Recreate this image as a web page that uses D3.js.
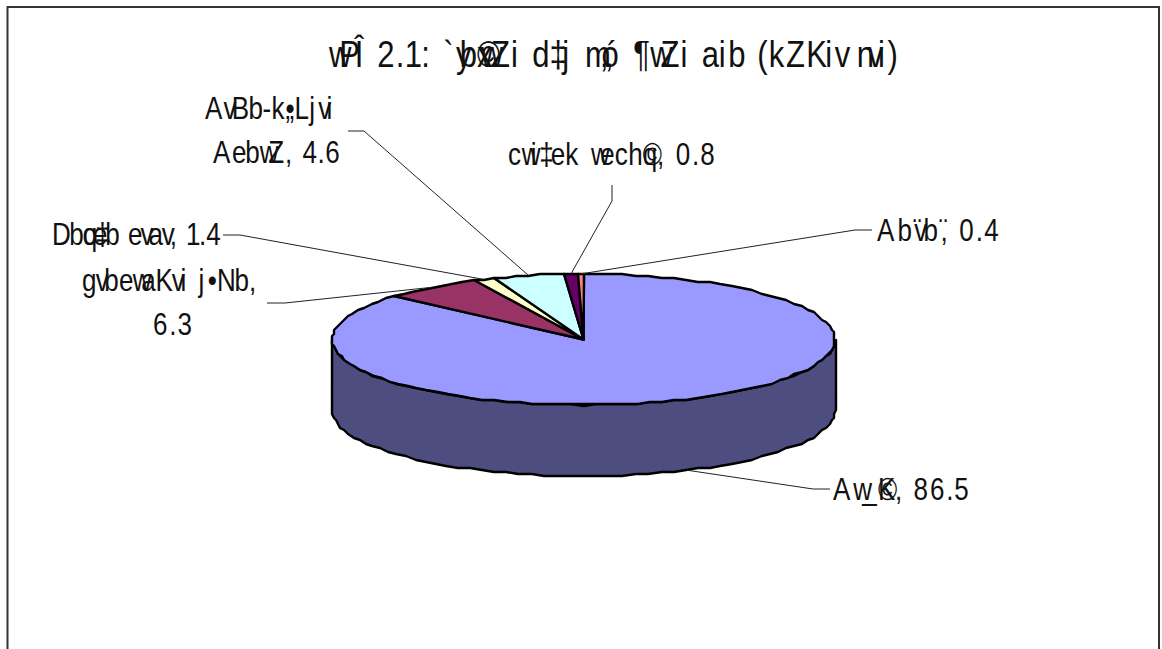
<!DOCTYPE html>
<html>
<head>
<meta charset="utf-8">
<script src="https://cdn.jsdelivr.net/npm/d3@7"></script>
<style>
  html, body { margin: 0; padding: 0; background: #fff; overflow: hidden; }
  text { font-family: "Liberation Sans", sans-serif; fill: #111; }
</style>
</head>
<body>
<div id="chart"></div>
<script>
const titleText = "wPÎ 2.1: `yb©xwZi d‡j m„ó ¶wZi aib (kZKiv nvi)";
const categories = ["Aw_©K", "gvbewaKvi j•Nb", "Dbœq‡b evav", "AvBb-k„•Ljvi AebwZ", "cwi‡ek wech©q", "Ab¨vb¨"];
const values = [86.5, 6.3, 1.4, 4.6, 0.8, 0.4];
const sliceColors = ["#9999ff", "#993366", "#ffffcc", "#ccffff", "#660066", "#ff8080"];
const wallColors = ["#4d4d80", "#4d1a33", "#808066", "#668080", "#330033", "#804040"];

// label layout: each line is [left, right, baseline], then the leader knee and its end near the text
const labelLayout = [
  { lines: [[833, 969, 500]], knee: [813, 489], end: [830, 489] },
  { lines: [[82, 263, 291], [153, 192, 335]], knee: [285, 303], end: [267, 303] },
  { lines: [[52, 219, 245]], knee: [240, 235], end: [223, 235] },
  { lines: [[205, 340, 119], [213, 339, 163]], knee: [364, 131], end: [348, 131] },
  { lines: [[508, 715, 165]], knee: [612, 201], end: [612, 185] },
  { lines: [[877, 999, 241]], knee: [855, 230], end: [872, 230] }
];

// advance widths of the legacy-encoded glyphs, in em
const advance = {
  w: .28, P: .42, "Î": .3, " ": .32, "2": .5, ".": .25, "1": .45, ":": .28, "`": .35, y: .1, b: .47, "©": 0, x: .1,
  Z: .55, i: .26, d: .47, "‡": .35, j: .3, m: .45, "„": 0, "ó": .55, "¶": .46, a: .46, "(": .32, k: .47, K: .52, v: .28,
  n: .3, ")": .3, A: .62, B: .56, "-": .3, L: .5, "•": .3, e: .44, ",": .25, D: .6, "œ": 0, q: .44, g: .44, N: .56,
  c: .42, _: .48, "¨": .04, "0": .5, "3": .5, "4": .5, "5": .5, "6": .5, "8": .5, h: .44
};

const width = 1162, height = 649;
const labelSize = 31, titleSize = 37;
const glyphScale = 0.84;
const depth = 71;

const svg = d3.select("#chart").append("svg").attr("width", width).attr("height", height);

// chart area border, the bottom edge falls outside the picture
svg.append("path").attr("d", "M7.5,700V7H1159V700")
  .attr("fill", "none").attr("stroke", "#333").attr("stroke-width", 2);

const sx = d3.scaleLinear().domain([-1, 1]).range([332, 835]);
const sy = d3.scaleLinear().domain([-1, 1]).range([274, 405]);
const project = (a, dy = 0) => [sx(Math.sin(a)), sy(-Math.cos(a)) + dy];
const line = d3.line();

// the original outline is a rough polygon snapped to a pixel grid
const sampleArc = (a0, a1, dy = 0) => {
  const n = Math.max(1, Math.ceil((a1 - a0) / (Math.PI / 60)));
  return d3.range(n + 1).map((i) => {
    const p = project(a0 + ((a1 - a0) * i) / n, dy);
    return [Math.round(p[0] / 2) * 2, Math.round(p[1] / 2) * 2];
  });
};

const pieData = d3.pie().value((d) => d).sort(null)(values);

// outer wall, only what faces the viewer
svg.append("g").selectAll("path")
  .data(pieData.filter((d) => d.startAngle < 1.5 * Math.PI && d.endAngle > 0.5 * Math.PI))
  .join("path")
  .attr("d", (d) => {
    const a0 = Math.max(d.startAngle, 0.5 * Math.PI);
    const a1 = Math.min(d.endAngle, 1.5 * Math.PI);
    return line([...sampleArc(a0, a1), ...sampleArc(a0, a1, depth).reverse()]) + "Z";
  })
  .attr("fill", (d) => wallColors[d.index])
  .attr("stroke", "#000").attr("stroke-width", 2.4).attr("stroke-linejoin", "round");

// top face
svg.append("g").selectAll("path")
  .data(pieData)
  .join("path")
  .attr("d", (d) => line([[sx(0), sy(0)], ...sampleArc(d.startAngle, d.endAngle)]) + "Z")
  .attr("fill", (d) => sliceColors[d.index])
  .attr("stroke", "#000").attr("stroke-width", 2.4).attr("stroke-linejoin", "round");

// leader lines
svg.append("g").selectAll("path")
  .data(pieData)
  .join("path")
  .attr("d", (d) => {
    const l = labelLayout[d.index];
    const mid = (d.startAngle + d.endAngle) / 2;
    const start = project(mid, Math.cos(mid) < 0 ? depth : 0);
    return line([start, l.knee, l.end]);
  })
  .attr("fill", "none").attr("stroke", "#222").attr("stroke-width", 1);

// each glyph gets its own x so the run fills [x0, x1] like the original mismatched font did
const putText = (str, size, x0, x1, y) => {
  const adv = Array.from(str).map((c) => (advance[c] === undefined ? 0.45 : advance[c]));
  const total = d3.sum(adv.slice(0, -1)) + 0.45;
  const k = (x1 - x0) / total;
  let cur = x0;
  const xs = adv.map((a) => { const p = cur; cur += a * k; return (p / glyphScale).toFixed(1); });
  svg.append("text")
    .attr("transform", `scale(${glyphScale},1)`)
    .attr("x", xs.join(" "))
    .attr("y", y)
    .attr("font-size", size)
    .text(str);
};

putText(titleText, titleSize, 329, 904, 67);

categories.forEach((name, i) => {
  const l = labelLayout[i];
  let parts = [name + ", " + values[i]];
  if (i === 1) parts = [name + ",", String(values[i])];
  if (i === 3) parts = ["AvBb-k„•Ljvi", "AebwZ, " + values[i]];
  parts.forEach((p, j) => putText(p, labelSize, l.lines[j][0], l.lines[j][1], l.lines[j][2]));
});
</script>
</body>
</html>
